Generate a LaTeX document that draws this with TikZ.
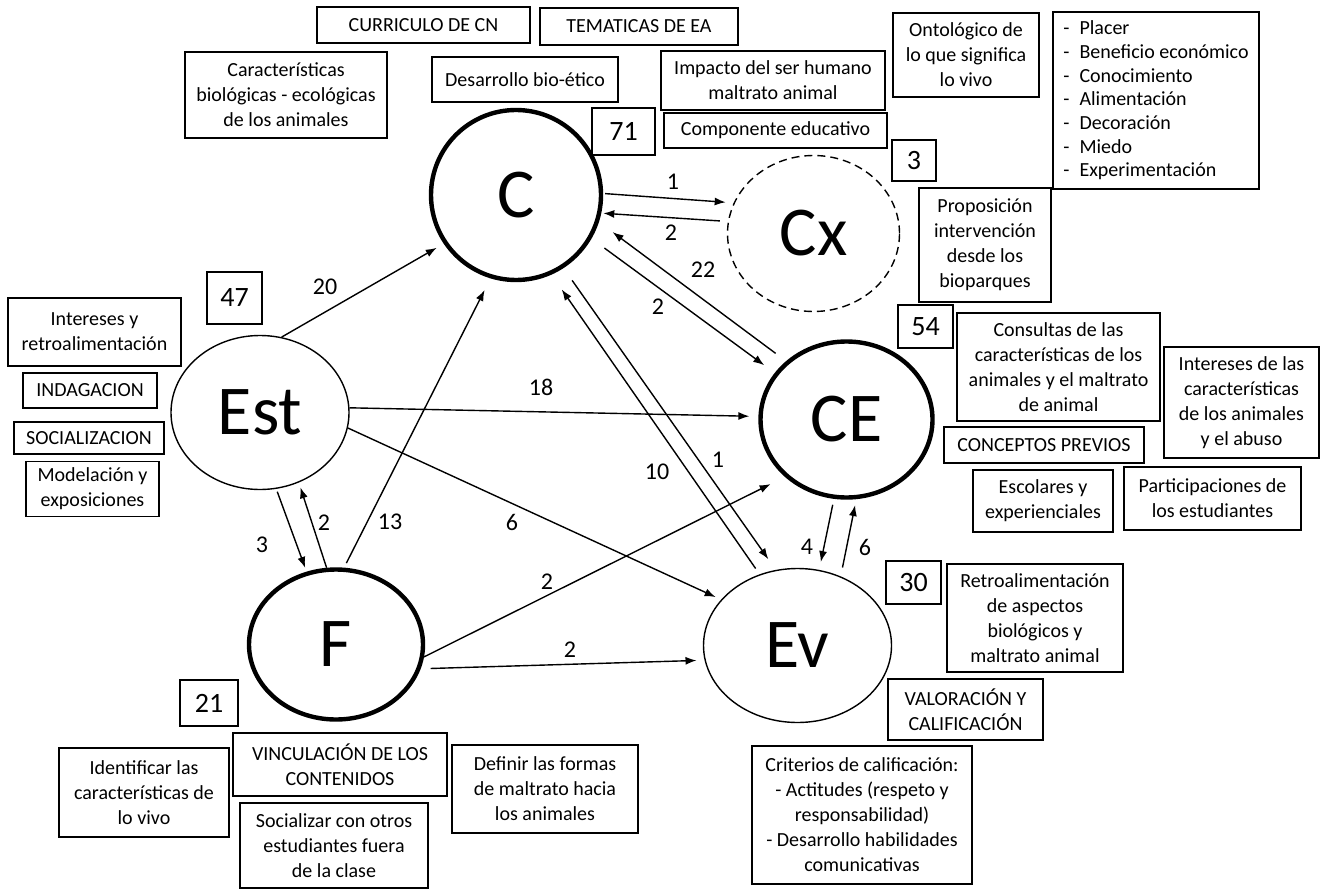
\documentclass[tikz,border=0pt]{standalone}
\usepackage{fontspec}
\setmainfont{Carlito}
\usetikzlibrary{shapes.geometric,arrows.meta}

\tikzset{
  box/.style={draw, line width=0.7pt, align=center, inner sep=1pt, font=\fontsize{10}{12.5}\selectfont},
  num/.style={draw, line width=0.7pt, inner sep=0pt, font=\fontsize{14}{16}\selectfont},
  cat/.style={ellipse, draw, line width=0.7pt, inner sep=0pt, font=\fontsize{35}{40}\selectfont},
  main/.style={cat, line width=2.2pt},
  rel/.style={-{Latex[length=5.5pt,width=4pt]}, line width=0.7pt},
  lbl/.style={font=\fontsize{12}{14}\selectfont, inner sep=0pt},
}

\begin{document}
\begin{tikzpicture}[x=0.5pt, y=-0.5pt]
    \useasboundingbox (0,0) rectangle (1320,893);

    % categorias
    \node[main, minimum width=85pt, minimum height=85pt] (C) at (516,195) {C};
    \node[cat, dashed, dash pattern=on 4pt off 2.5pt, minimum width=86pt, minimum height=78pt] (Cx) at (813.5,233.5) {Cx};
    \node[main, minimum width=86pt, minimum height=78pt] (CE) at (846.5,419.5) {CE};
    \node[cat, minimum width=89pt, minimum height=77pt] (Est) at (260,412.5) {Est};
    \node[main, minimum width=87pt, minimum height=75pt] (F) at (336,644.5) {F};
    \node[cat, minimum width=94pt, minimum height=77pt] (Ev) at (797.5,645.5) {Ev};

    % C
    \node[box, minimum width=106.5pt, minimum height=18pt] (curric) at (423.5,25) {CURRICULO DE CN};
    \node[box, minimum width=99pt, minimum height=18.5pt] (temat) at (639,26.5) {TEMATICAS DE EA};
    \node[box, minimum width=101pt, minimum height=43pt] (caract) at (286,95) {Características\\biológicas - ecológicas\\de los animales};
    \node[box, minimum width=93pt, minimum height=22.5pt] (bioet) at (525,79.5) {Desarrollo bio-ético};
    \node[box, minimum width=112pt, minimum height=29.5pt] (impacto) at (773,80.5) {Impacto del ser humano\\maltrato animal};
    \node[num, minimum width=31.5pt, minimum height=23.5pt] (n71) at (623.5,131.5) {71};
    \node[box, minimum width=111.5pt, minimum height=17.5pt] (compon) at (775.5,130.5) {Componente educativo};

    % Cx
    \node[box, minimum width=73pt, minimum height=42pt] (ontol) at (966,55) {Ontológico de\\lo que significa\\lo vivo};
    \node[box, align=left, minimum width=103pt, minimum height=88.5pt, font=\fontsize{10}{11.85}\selectfont] (usos) at (1156,100.5)
        {-\hspace{5pt}Placer\\-\hspace{5pt}Beneficio económico\\-\hspace{5pt}Conocimiento\\-\hspace{5pt}Alimentación\\-\hspace{5pt}Decoración\\-\hspace{5pt}Miedo\\-\hspace{5pt}Experimentación};
    \node[num, minimum width=22pt, minimum height=20.5pt] (n3) at (914,160.5) {3};
    \node[box, minimum width=66pt, minimum height=57pt] (propos) at (985,245) {Proposición\\intervención\\desde los\\bioparques};

    % Est
    \node[num, minimum width=27.5pt, minimum height=26pt] (n47) at (234.5,298) {47};
    \node[box, minimum width=86.5pt, minimum height=34pt] (interes) at (94.5,332) {Intereses y\\retroalimentación};
    \node[box, minimum width=67pt, minimum height=17.5pt] (indag) at (90,390.5) {INDAGACION};
    \node[box, minimum width=75pt, minimum height=16pt] (social) at (89,438) {SOCIALIZACION};
    \node[box, minimum width=66.5pt, minimum height=27.5pt] (model) at (92.5,489) {Modelación y\\exposiciones};

    % CE
    \node[num, minimum width=27.5pt, minimum height=21.5pt] (n54) at (925.5,326.5) {54};
    \node[box, minimum width=101.5pt, minimum height=54pt] (consul) at (1058.5,367) {Consultas de las\\características de los\\animales y el maltrato\\de animal};
    \node[box, minimum width=77.5pt, minimum height=55.5pt] (interab) at (1241.5,402.5) {Intereses de las\\características\\de los animales\\y el abuso};
    \node[box, minimum width=100pt, minimum height=18pt] (concep) at (1044,445) {CONCEPTOS PREVIOS};
    \node[box, minimum width=70pt, minimum height=31pt] (escol) at (1043,501) {Escolares y\\experienciales};
    \node[box, minimum width=88.5pt, minimum height=31.5pt] (partic) at (1212.5,498.5) {Participaciones de\\los estudiantes};

    % Ev
    \node[num, minimum width=27.5pt, minimum height=21.5pt] (n30) at (913.5,582.5) {30};
    \node[box, minimum width=88pt, minimum height=54pt] (retro) at (1035,618) {Retroalimentación\\de aspectos\\biológicos y\\maltrato animal};
    \node[box, minimum width=77.5pt, minimum height=30.5pt] (valor) at (965.5,709.5) {VALORACIÓN Y\\CALIFICACIÓN};
    \node[box, minimum width=110pt, minimum height=69pt] (criter) at (862,815) {Criterios de calificación:\\- Actitudes (respeto y\\responsabilidad)\\- Desarrollo habilidades\\comunicativas};

    % F
    \node[num, minimum width=29pt, minimum height=23pt] (n21) at (209,703) {21};
    \node[box, minimum width=85pt, minimum height=44.5pt] (identif) at (144,792.5) {Identificar las\\características de\\lo vivo};
    \node[box, minimum width=107pt, minimum height=31.5pt] (vincul) at (340,764.5) {VINCULACIÓN DE LOS\\CONTENIDOS};
    \node[box, minimum width=94pt, minimum height=42.5pt] (socfuera) at (334,845.5) {Socializar con otros\\estudiantes fuera\\de la clase};
    \node[box, minimum width=93pt, minimum height=44pt] (definir) at (545,789) {Definir las formas\\de maltrato hacia\\los animales};

    % relaciones
    \draw[rel, shorten <=1pt, shorten >=4pt] (C.1) -- (Cx.159);
    \draw[rel, shorten <=4pt, shorten >=1pt] (Cx.172) -- (C.-12);
    \draw[rel, shorten <=6.5pt, shorten >=8.5pt] (CE.136) -- (C.-18);
    \draw[rel, shorten <=8pt, shorten >=6.5pt] (C.-30) -- (CE.147);
    \draw[rel, shorten <=7.5pt, shorten >=6.5pt] (C.-57) -- (Ev.106);
    \draw[rel, shorten <=3.5pt, shorten >=9pt] (Ev.118) -- (C.-66);
    \draw[rel, shorten >=4pt] (Est.74) -- (C.214);
    \draw[rel, shorten >=4.5pt] (Est.3) -- (CE.178);
    \draw[rel, shorten >=3pt] (Est.-10) -- (Ev.149);
    \draw[rel, shorten <=1.5pt, shorten >=2pt] (Est.-78) -- (F.112);
    \draw[rel, shorten >=2.5pt] (F.97) -- (Est.-61);
    \draw[rel, shorten <=2.5pt, shorten >=6.5pt] (F.84) -- (C.253);
    \draw[rel, shorten >=8pt] (F.-8) -- (CE.223);
    \draw[rel, shorten <=5pt, shorten >=4pt] (F.-16) -- (Ev.189);
    \draw[rel, shorten <=3pt, shorten >=4pt] (CE.261) -- (Ev.74);
    \draw[rel, shorten <=4.5pt, shorten >=3pt] (Ev.58) -- (CE.-83);

    \node[lbl] (wCCx) at (673,182) {1};
    \node[lbl] (wCxC) at (671,233) {2};
    \node[lbl] (wCEC) at (703,270) {22};
    \node[lbl] (wCCE) at (658,307) {2};
    \node[lbl] (wCEv) at (718,460) {1};
    \node[lbl] (wEvC) at (657,472) {10};
    \node[lbl] (wEstC) at (325,287) {20};
    \node[lbl] (wEstCE) at (541,387) {18};
    \node[lbl] (wEstEv) at (512,522) {6};
    \node[lbl] (wEstF) at (262,545) {3};
    \node[lbl] (wFEst) at (324,523) {2};
    \node[lbl] (wFC) at (390,522) {13};
    \node[lbl] (wFCE) at (547,582) {2};
    \node[lbl] (wFEv) at (570,650) {2};
    \node[lbl] (wCEEv) at (807,547) {4};
    \node[lbl] (wEvCE) at (865,547) {6};
\end{tikzpicture}
\end{document}
